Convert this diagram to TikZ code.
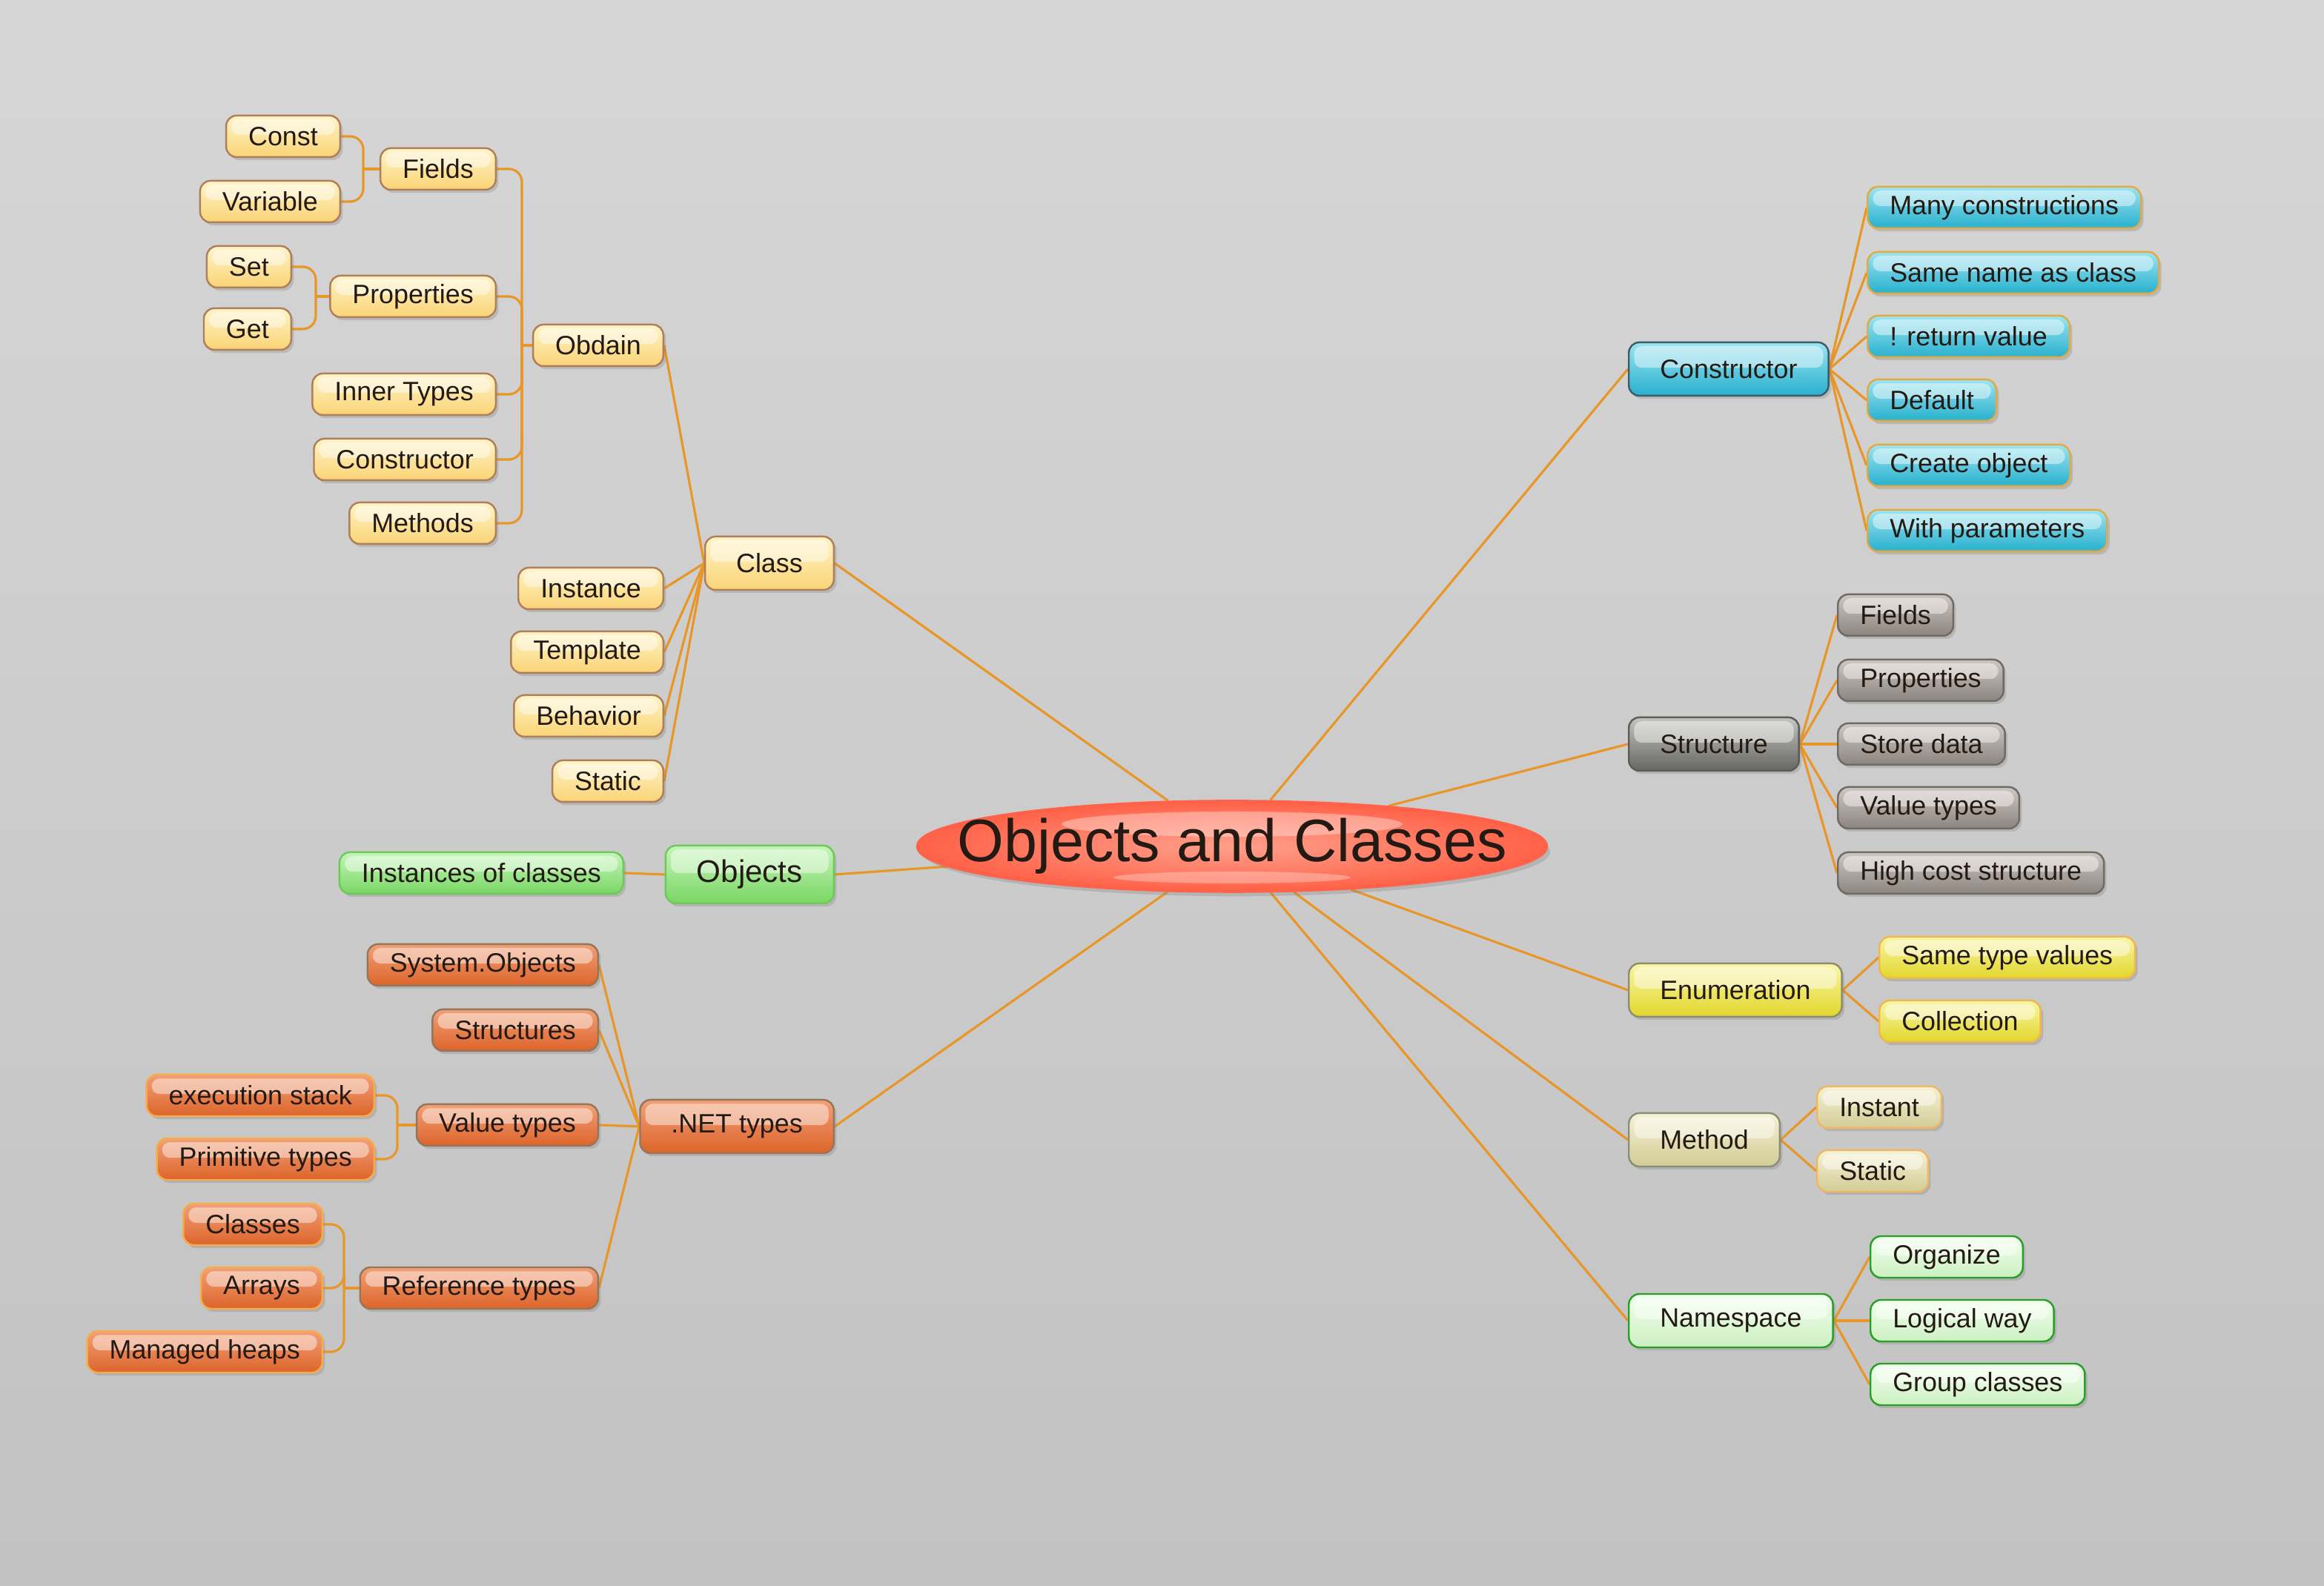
\documentclass[tikz,border=0pt]{standalone}
\usepackage{fontspec}
\setmainfont{Liberation Sans}
\usetikzlibrary{shapes.geometric,shadows,backgrounds}

\definecolor{bgT}{RGB}{214,214,214}
\definecolor{bgB}{RGB}{194,194,194}
\definecolor{linkc}{RGB}{232,150,40}
\definecolor{ink}{RGB}{36,26,20}
\definecolor{rootI}{RGB}{255,160,140}
\definecolor{rootO}{RGB}{255,98,72}
\definecolor{yelT}{RGB}{255,244,200}
\definecolor{yelB}{RGB}{250,212,118}
\definecolor{yelD}{RGB}{176,126,88}
\definecolor{grnT}{RGB}{196,246,186}
\definecolor{grnB}{RGB}{122,214,100}
\definecolor{grnD}{RGB}{110,200,90}
\definecolor{orgT}{RGB}{242,160,120}
\definecolor{orgB}{RGB}{220,100,42}
\definecolor{orgD}{RGB}{150,118,90}
\definecolor{orgL}{RGB}{246,172,72}
\definecolor{cyaT}{RGB}{156,228,242}
\definecolor{cyaB}{RGB}{40,176,206}
\definecolor{cyaD}{RGB}{62,92,104}
\definecolor{cyaL}{RGB}{228,170,62}
\definecolor{gryT}{RGB}{196,196,192}
\definecolor{gryB}{RGB}{102,102,98}
\definecolor{gryD}{RGB}{92,92,90}
\definecolor{grlT}{RGB}{206,198,192}
\definecolor{grlB}{RGB}{140,132,126}
\definecolor{grlD}{RGB}{112,106,100}
\definecolor{enuT}{RGB}{250,246,168}
\definecolor{enuB}{RGB}{226,214,42}
\definecolor{enuD}{RGB}{140,140,112}
\definecolor{enuL}{RGB}{240,182,80}
\definecolor{metT}{RGB}{246,242,212}
\definecolor{metB}{RGB}{210,204,150}
\definecolor{metD}{RGB}{140,140,122}
\definecolor{metL}{RGB}{240,182,100}
\definecolor{nspT}{RGB}{242,255,238}
\definecolor{nspB}{RGB}{204,240,194}
\definecolor{nspD}{RGB}{40,160,40}

\pgfdeclarelayer{backdrop}
\pgfsetlayers{backdrop,background,main}

\begin{document}
\begin{tikzpicture}[
    link/.style={draw=linkc, line width=0.9pt},
    elbow/.style={link, rounded corners=5pt},
    gloss/.style={path picture={\fill[white, opacity=0.45, rounded corners=3pt]
        ([shift={(2pt,-1.5pt)}]path picture bounding box.north west) rectangle
        ([shift={(-2pt,0.5pt)}]path picture bounding box.east);}},
    box/.style={rounded corners=4pt, line width=0.7pt, inner xsep=0.3cm, inner ysep=0pt,
        minimum height=0.56cm, text=ink, font=\fontsize{10.2}{12}\selectfont,
        drop shadow={opacity=0.3, shadow xshift=1pt, shadow yshift=-1.2pt}, gloss},
    main/.style={box, inner xsep=0.42cm, minimum height=0.72cm},
    root/.style={ellipse, minimum width=8.46cm, minimum height=1.2cm, inner xsep=-0.71cm, inner ysep=0.05cm,
        inner color=rootI, outer color=rootO, draw=rootO, line width=1.4pt, text=ink,
        font=\fontsize{23}{26}\selectfont,
        drop shadow={opacity=0.3, shadow xshift=1.5pt, shadow yshift=-2pt},
        path picture={\fill[white, opacity=0.35] ([yshift=0.3cm]path picture bounding box.center) ellipse (2.3cm and 0.17cm);
                      \fill[white, opacity=0.3] ([yshift=-0.42cm]path picture bounding box.center) ellipse (1.6cm and 0.08cm);}},
    yel/.style={top color=yelT, bottom color=yelB, draw=yelD},
    grn/.style={top color=grnT, bottom color=grnB, draw=grnD},
    org/.style={top color=orgT, bottom color=orgB, draw=orgD},
    orgleaf/.style={org, draw=orgL},
    cya/.style={top color=cyaT, bottom color=cyaB, draw=cyaD},
    cyaleaf/.style={cya, draw=cyaL},
    gry/.style={top color=gryT, bottom color=gryB, draw=gryD},
    gryleaf/.style={top color=grlT, bottom color=grlB, draw=grlD},
    enu/.style={top color=enuT, bottom color=enuB, draw=enuD},
    enuleaf/.style={enu, draw=enuL},
    met/.style={top color=metT, bottom color=metB, draw=metD},
    metleaf/.style={met, draw=metL},
    nsp/.style={top color=nspT, bottom color=nspB, draw=nspD}
]
    \begin{pgfonlayer}{backdrop}
        \fill[top color=bgT, bottom color=bgB] (0,0) rectangle (31.35,21.4);
    \end{pgfonlayer}
    \useasboundingbox (0,0) rectangle (31.35,21.4);

    \node[root] (root) at (16.62,9.98) {Objects and Classes};

    % Class
    \node[main,yel,anchor=east] (cls) at (11.26,13.80) {Class};
    \node[box,yel,anchor=east] (obdain) at (8.96,16.74) {Obdain};
    \node[box,yel,anchor=east] (inst) at (8.96,13.46) {Instance};
    \node[box,yel,anchor=east] (tmpl) at (8.96,12.60) {Template};
    \node[box,yel,anchor=east] (behav) at (8.96,11.74) {Behavior};
    \node[box,yel,anchor=east] (statL) at (8.96,10.86) {Static};
    \node[box,yel,anchor=east] (fieldsL) at (6.70,19.12) {Fields};
    \node[box,yel,anchor=east] (propsL) at (6.70,17.40) {Properties};
    \node[box,yel,anchor=east] (inner) at (6.70,16.08) {Inner Types};
    \node[box,yel,anchor=east] (ctorL) at (6.70,15.20) {Constructor};
    \node[box,yel,anchor=east] (meths) at (6.70,14.34) {Methods};
    \node[box,yel,anchor=east] (const) at (4.60,19.56) {Const};
    \node[box,yel,anchor=east] (var) at (4.60,18.68) {Variable};
    \node[box,yel,anchor=east] (set) at (3.94,17.80) {Set};
    \node[box,yel,anchor=east] (get) at (3.94,16.96) {Get};

    % Objects
    \node[main,grn,anchor=east,minimum height=0.78cm,font=\fontsize{12}{14}\selectfont] (objs) at (11.26,9.60) {Objects};
    \node[box,grn,anchor=east] (instof) at (8.42,9.62) {Instances of classes};

    % .NET types
    \node[main,org,anchor=east] (net) at (11.26,6.20) {.NET types};
    \node[box,org,anchor=east] (sysobj) at (8.08,8.38) {System.Objects};
    \node[box,org,anchor=east] (structs) at (8.08,7.50) {Structures};
    \node[box,org,anchor=east] (valL) at (8.08,6.22) {Value types};
    \node[box,org,anchor=east] (refs) at (8.08,4.02) {Reference types};
    \node[box,orgleaf,anchor=east] (exec) at (5.06,6.62) {execution stack};
    \node[box,orgleaf,anchor=east] (prim) at (5.06,5.76) {Primitive types};
    \node[box,orgleaf,anchor=east] (clss) at (4.36,4.88) {Classes};
    \node[box,orgleaf,anchor=east] (arrs) at (4.36,4.02) {Arrays};
    \node[box,orgleaf,anchor=east] (heaps) at (4.36,3.16) {Managed heaps};

    % Constructor
    \node[main,cya,anchor=west] (ctorR) at (21.96,16.42) {Constructor};
    \node[box,cyaleaf,anchor=west] (many) at (25.18,18.60) {Many constructions};
    \node[box,cyaleaf,anchor=west] (same) at (25.18,17.72) {Same name as class};
    \node[box,cyaleaf,anchor=west] (noret) at (25.18,16.86) {! return value};
    \node[box,cyaleaf,anchor=west] (dflt) at (25.18,16.00) {Default};
    \node[box,cyaleaf,anchor=west] (create) at (25.18,15.12) {Create object};
    \node[box,cyaleaf,anchor=west] (params) at (25.18,14.24) {With parameters};

    % Structure
    \node[main,gry,anchor=west] (struct) at (21.96,11.36) {Structure};
    \node[box,gryleaf,anchor=west] (fieldsR) at (24.78,13.10) {Fields};
    \node[box,gryleaf,anchor=west] (propsR) at (24.78,12.22) {Properties};
    \node[box,gryleaf,anchor=west] (store) at (24.78,11.36) {Store data};
    \node[box,gryleaf,anchor=west] (valR) at (24.78,10.50) {Value types};
    \node[box,gryleaf,anchor=west] (cost) at (24.78,9.62) {High cost structure};

    % Enumeration, Method, Namespace
    \node[main,enu,anchor=west] (enum) at (21.96,8.04) {Enumeration};
    \node[box,enuleaf,anchor=west] (stv) at (25.34,8.48) {Same type values};
    \node[box,enuleaf,anchor=west] (coll) at (25.34,7.62) {Collection};
    \node[main,met,anchor=west] (meth) at (21.96,6.02) {Method};
    \node[box,metleaf,anchor=west] (instant) at (24.50,6.46) {Instant};
    \node[box,metleaf,anchor=west] (statR) at (24.50,5.60) {Static};
    \node[main,nsp,anchor=west] (nspace) at (21.96,3.58) {Namespace};
    \node[box,nsp,anchor=west] (org) at (25.22,4.44) {Organize};
    \node[box,nsp,anchor=west] (logic) at (25.22,3.58) {Logical way};
    \node[box,nsp,anchor=west] (group) at (25.22,2.72) {Group classes};

    \coordinate (obus) at (7.04,16.74);
    \coordinate (fbus) at (4.90,19.12);
    \coordinate (pbus) at (4.26,17.40);
    \coordinate (vbus) at (5.36,6.22);
    \coordinate (rbus) at (4.64,4.02);

    \begin{pgfonlayer}{background}
        \foreach \n in {cls,objs,net} \draw[link] (root) -- (\n.east);
        \foreach \n in {ctorR,struct,enum,meth,nspace} \draw[link] (root) -- (\n.west);

        \foreach \n in {obdain,inst,tmpl,behav,statL} \draw[link] (cls.west) -- (\n.east);
        \foreach \n in {fieldsL,propsL,inner,ctorL,meths} \draw[elbow] (\n.east) -| (obus);
        \draw[link] (obus) -- (obdain.west);
        \foreach \n in {const,var} \draw[elbow] (\n.east) -| (fbus);
        \draw[link] (fbus) -- (fieldsL.west);
        \foreach \n in {set,get} \draw[elbow] (\n.east) -| (pbus);
        \draw[link] (pbus) -- (propsL.west);

        \draw[link] (objs.west) -- (instof.east);

        \foreach \n in {sysobj,structs,valL,refs} \draw[link] (net.west) -- (\n.east);
        \foreach \n in {exec,prim} \draw[elbow] (\n.east) -| (vbus);
        \draw[link] (vbus) -- (valL.west);
        \foreach \n in {clss,arrs,heaps} \draw[elbow] (\n.east) -| (rbus);
        \draw[link] (rbus) -- (refs.west);

        \foreach \n in {many,same,noret,dflt,create,params} \draw[link] (ctorR.east) -- (\n.west);
        \foreach \n in {fieldsR,propsR,store,valR,cost} \draw[link] (struct.east) -- (\n.west);
        \foreach \n in {stv,coll} \draw[link] (enum.east) -- (\n.west);
        \foreach \n in {instant,statR} \draw[link] (meth.east) -- (\n.west);
        \foreach \n in {org,logic,group} \draw[link] (nspace.east) -- (\n.west);
    \end{pgfonlayer}
\end{tikzpicture}
\end{document}
